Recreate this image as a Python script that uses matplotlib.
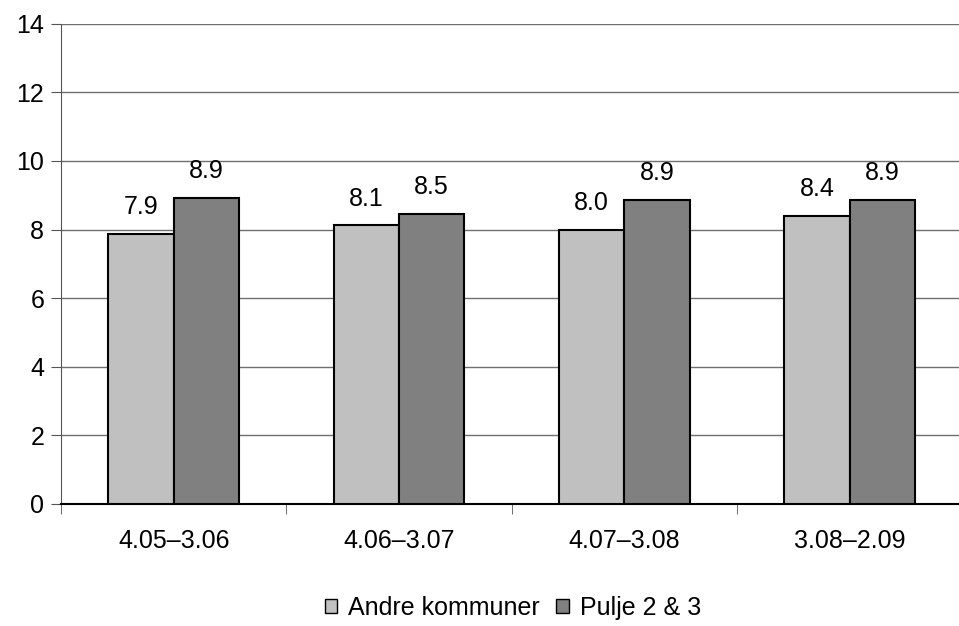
import matplotlib.pyplot as plt
from matplotlib.patches import Patch
import numpy as np

plt.rcParams['font.family'] = ['Liberation Sans', 'DejaVu Sans']

periods = ["4.05\u20133.06", "4.06\u20133.07", "4.07\u20133.08", "3.08\u20132.09"]
andre = [7.87, 8.12, 7.99, 8.40]
pulje = [8.93, 8.46, 8.87, 8.87]
series_names = ["Andre kommuner", "Pulje 2 & 3"]
colors = ["#c0c0c0", "#808080"]

fig = plt.figure(figsize=(9.59, 6.26), dpi=100)
ax = fig.add_axes([0.0636, 0.195, 0.94, 0.767])

x = np.arange(len(periods))
w = 0.29
for vals, off, col in [(andre, -w / 2, colors[0]), (pulje, w / 2, colors[1])]:
    bars = ax.bar(x + off, vals, w, color=col, edgecolor="black", linewidth=1.5, zorder=3)
    for b, v in zip(bars, vals):
        ax.annotate(f"{v:.1f}", (b.get_x() + b.get_width() / 2, v), xytext=(0, 10.5),
                    textcoords="offset points", ha="center", va="bottom", fontsize=18)

ax.set_xlim(-0.5, len(periods) - 0.5)
ax.set_ylim(0, 14)
ax.set_yticks(range(0, 15, 2))
ax.yaxis.grid(True, color="#707070", linewidth=1)
ax.set_axisbelow(True)

ax.set_xticks(x)
ax.set_xticklabels(periods)
ax.set_xticks(np.arange(-0.5, len(periods) - 0.5), minor=True)
ax.tick_params(axis="x", which="major", length=0, pad=18, labelsize=18)
ax.tick_params(axis="x", which="minor", length=7, color="#555555")
ax.tick_params(axis="y", length=7, color="#555555", labelsize=18, pad=5)

for s in ["top", "right"]:
    ax.spines[s].set_visible(False)
ax.spines["left"].set_color("#555555")
ax.spines["bottom"].set_color("black")
ax.spines["bottom"].set_linewidth(1.5)

handles = [Patch(facecolor=c, edgecolor="black", label=n) for c, n in zip(colors, series_names)]
fig.legend(handles=handles, loc="center", bbox_to_anchor=(0.535, 0.029), ncol=2, frameon=False,
           fontsize=18, handlelength=0.5, handleheight=0.5, handletextpad=0.45, columnspacing=0.65)

fig.savefig("out.png", dpi=100)
